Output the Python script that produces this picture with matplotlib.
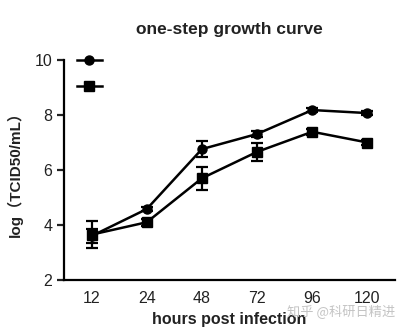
import matplotlib
matplotlib.use('Agg')
import matplotlib.pyplot as plt
from matplotlib.lines import Line2D

plt.rcParams['font.family'] = ['Liberation Sans', 'Noto Sans CJK SC', 'DejaVu Sans']

# data
hours = ['12', '24', '48', '72', '96', '120']
circle_mean = [3.6, 4.58, 6.76, 7.31, 8.18, 8.07]
circle_err = [0.25, 0.08, 0.3, 0.1, 0.08, 0.08]
square_mean = [3.65, 4.1, 5.7, 6.66, 7.39, 7.0]
square_err = [0.5, 0.12, 0.42, 0.32, 0.1, 0.08]

fig = plt.figure(figsize=(4.07, 3.32), dpi=100)
ax = fig.add_axes([64/407, 1 - 280/332, 331/407, 220/332])

x = range(len(hours))
style = dict(color='black', lw=1.8, capsize=4, capthick=1.6, elinewidth=1.6)
ax.errorbar(x, circle_mean, yerr=circle_err, marker='o', ms=6.5, **style)
ax.errorbar(x, square_mean, yerr=square_err, marker='s', ms=6.5, **style)

ax.set_xlim(-0.5, 5.5)
ax.set_ylim(2, 10)
ax.set_xticks(list(x))
ax.set_xticklabels(hours)
ax.set_yticks([2, 4, 6, 8, 10])
ax.spines['top'].set_visible(False)
ax.spines['right'].set_visible(False)
for s in ['left', 'bottom']:
    ax.spines[s].set_linewidth(1.6)
ax.tick_params(width=1.6, length=5, labelsize=11.5, colors='#222222')
ax.tick_params(axis='x', length=0, pad=8)

ax.set_title('one-step growth curve', fontsize=12.5, fontweight='bold', pad=19, color='#222222')
ax.set_xlabel('hours post infection', fontsize=11.5, fontweight='bold', color='#222222', labelpad=4)
ax.set_ylabel('log（TCID50/mL）', fontsize=11, fontweight='bold', color='#222222', labelpad=8)

handles = [Line2D([], [], color='black', lw=1.8, marker='o', ms=6.5),
           Line2D([], [], color='black', lw=1.8, marker='s', ms=6.5)]
ax.legend(handles, ['', ''], loc='upper left', frameon=False, handlelength=1.8,
          bbox_to_anchor=(0.0, 1.085), labelspacing=0.9)

fig.text(0.97, 1 - 312/332, '知乎 @科研日精进', fontsize=9.5, color='#c4c4c4',
         ha='right', va='center', family=['Noto Sans CJK SC', 'DejaVu Sans'])

fig.savefig('out.png', dpi=100)
